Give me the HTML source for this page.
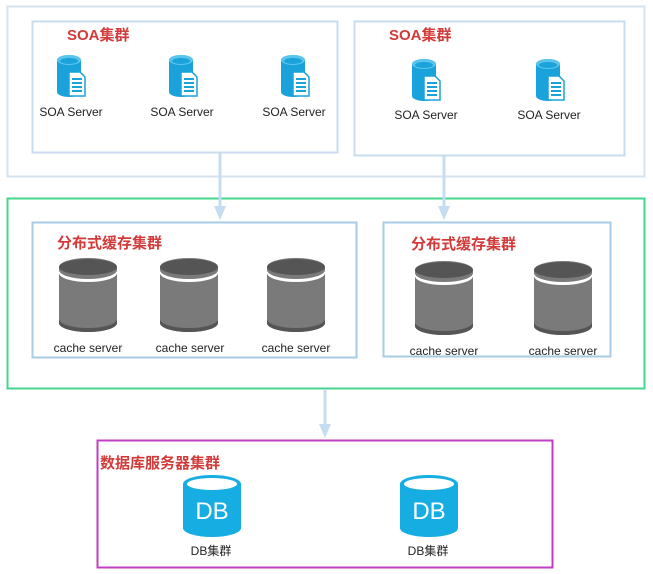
<!DOCTYPE html>
<html><head><meta charset="utf-8"><style>
html,body{margin:0;padding:0;background:#fff;width:653px;height:574px;overflow:hidden}
svg text{font-family:"Liberation Sans","Noto Sans CJK SC",sans-serif}
.t{fill:#d33a3a;font-weight:bold;font-size:15px}
.l{fill:#222;font-size:12px}
</style></head><body>
<svg width="653" height="574" viewBox="0 0 653 574" xmlns="http://www.w3.org/2000/svg">
<defs>
<symbol id="soa" viewBox="0 0 32 44" width="32" height="44">
<path d="M2 6 A12 5 0 0 1 26 6 V38 A12 5 0 0 1 2 38 Z" fill="#1aa3da"/>
<ellipse cx="14" cy="6" rx="12" ry="5" fill="#5cc4ec"/>
<ellipse cx="14" cy="7" rx="9" ry="3" fill="#1aa3da"/>
<path d="M14 18 H25 L30 23 V42 H14 Z" fill="#fff" stroke="#1aa3da" stroke-width="1.5"/>
<rect x="17" y="24" width="10" height="2" fill="#1aa3da"/>
<rect x="17" y="28" width="10" height="2" fill="#1aa3da"/>
<rect x="17" y="32" width="10" height="2" fill="#1aa3da"/>
<rect x="17" y="36" width="10" height="2" fill="#1aa3da"/>
</symbol>
<symbol id="cache" viewBox="0 0 58 74" width="58" height="74">
<path d="M0 9 A29 9 0 0 1 58 9 V65 A29 9 0 0 1 0 65 Z" fill="#7a7a7a"/>
<path d="M0 65 A29 9 0 0 0 58 65 V61 A29 9 0 0 1 0 61 Z" fill="#555"/>
<path d="M0 12 A29 9 0 0 0 58 12 V15 A29 9 0 0 1 0 15 Z" fill="#fff"/>
<ellipse cx="29" cy="9" rx="29" ry="8" fill="#555"/>
</symbol>
<symbol id="db" viewBox="0 0 58 62" width="58" height="62">
<path d="M0 9 A29 9 0 0 1 58 9 V53 A29 9 0 0 1 0 53 Z" fill="#16ade3"/>
<ellipse cx="29" cy="9" rx="25" ry="6" fill="#fff"/>
<text x="29" y="44" text-anchor="middle" font-size="24" fill="#fff" style="font-family:'Liberation Sans',sans-serif">DB</text>
</symbol>
</defs>
<!-- boxes -->
<rect x="7.5" y="6.5" width="637" height="170" fill="none" stroke="#d5e3ef" stroke-width="2"/>
<rect x="32.5" y="21.5" width="305" height="131" fill="none" stroke="#c8dced" stroke-width="2"/>
<rect x="354.5" y="21.5" width="270" height="134" fill="none" stroke="#c8dced" stroke-width="2"/>
<rect x="7.5" y="198.5" width="637" height="190" fill="none" stroke="#44d68e" stroke-width="2"/>
<rect x="32.5" y="222.5" width="324" height="135" fill="none" stroke="#a9cbe6" stroke-width="2"/>
<rect x="383.5" y="222.5" width="227" height="134" fill="none" stroke="#a9cbe6" stroke-width="2"/>
<rect x="97.5" y="440.5" width="455" height="127" fill="none" stroke="#c23ec2" stroke-width="2"/>
<!-- arrows -->
<g stroke="#c6dcf0" stroke-width="3"><line x1="220" y1="153" x2="220" y2="210"/><line x1="444" y1="156" x2="444" y2="210"/><line x1="325" y1="389" x2="325" y2="428"/></g>
<g fill="#c6dcf0"><path d="M214 206 L226 206 L220 220 Z"/><path d="M438 206 L450 206 L444 220 Z"/><path d="M319 424 L331 424 L325 438 Z"/></g>
<!-- titles -->
<text class="t" x="67" y="40">SOA集群</text>
<text class="t" x="389" y="40">SOA集群</text>
<text class="t" x="57" y="248">分布式缓存集群</text>
<text class="t" x="411" y="249">分布式缓存集群</text>
<text class="t" x="100" y="468">数据库服务器集群</text>
<!-- SOA -->
<use href="#soa" x="55" y="54"/><use href="#soa" x="167" y="54"/><use href="#soa" x="279" y="54"/>
<use href="#soa" x="410" y="58"/><use href="#soa" x="534" y="58"/>
<text class="l" x="71" y="116" text-anchor="middle">SOA Server</text>
<text class="l" x="182" y="116" text-anchor="middle">SOA Server</text>
<text class="l" x="294" y="116" text-anchor="middle">SOA Server</text>
<text class="l" x="426" y="119" text-anchor="middle">SOA Server</text>
<text class="l" x="549" y="119" text-anchor="middle">SOA Server</text>
<!-- cache -->
<use href="#cache" x="59" y="258"/><use href="#cache" x="160" y="258"/><use href="#cache" x="267" y="258"/>
<use href="#cache" x="415" y="261"/><use href="#cache" x="534" y="261"/>
<text class="l" x="88" y="352" text-anchor="middle">cache server</text>
<text class="l" x="190" y="352" text-anchor="middle">cache server</text>
<text class="l" x="296" y="352" text-anchor="middle">cache server</text>
<text class="l" x="444" y="355" text-anchor="middle">cache server</text>
<text class="l" x="563" y="355" text-anchor="middle">cache server</text>
<!-- DB -->
<use href="#db" x="183" y="475"/><use href="#db" x="400" y="475"/>
<text class="l" x="211" y="555" text-anchor="middle">DB集群</text>
<text class="l" x="428" y="555" text-anchor="middle">DB集群</text>
</svg>
</body></html>
